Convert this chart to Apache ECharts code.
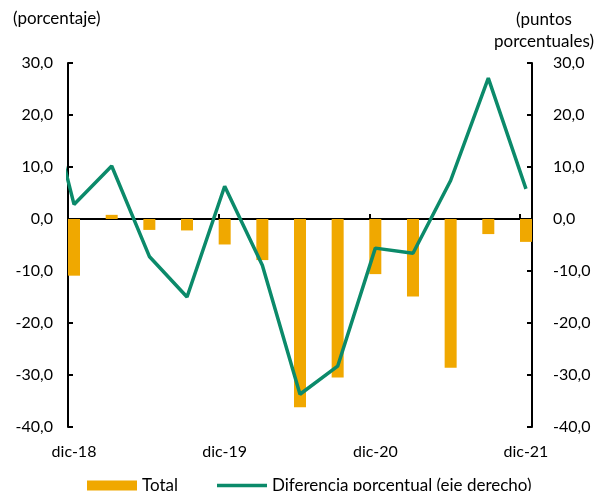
<!DOCTYPE html>
<html>
<head>
<meta charset="utf-8">
<script src="https://cdn.jsdelivr.net/npm/echarts@6/dist/echarts.min.js"></script>
<style>html,body{margin:0;padding:0;background:#fff;}#c{width:597px;height:491px;}</style>
</head>
<body>
<div id="c"></div>
<script>
// Quarterly periods dic-18 .. dic-21 (13 quarters)
const quarters = ['dic-18','mar-19','jun-19','sep-19','dic-19','mar-20','jun-20','sep-20','dic-20','mar-21','jun-21','sep-21','dic-21'];
const tickLabels = ['dic-18','dic-19','dic-20','dic-21'];
const tickQuarterIdx = [0, 4, 8, 12];
const totalValues = [-10.9, 0.8, -2.1, -2.2, -4.9, -7.9, -36.2, -30.5, -10.6, -14.9, -28.6, -2.9, -4.4];
// line starts one quarter before dic-18 (clipped by the plot area)
const diffPrevValue = 31.5;
const diffValues = [2.8, 10.2, -7.2, -15.0, 6.3, -8.9, -33.7, -28.3, -5.6, -6.6, 7.4, 27.1, 5.8];
const yTicks = [-40, -30, -20, -10, 0, 10, 20, 30];

const FONT = 'Lato';
const fmt = v => v.toFixed(1).replace('.', ',');
const xMin = -0.16, xMax = quarters.length - 1 + 0.16;

const barData = totalValues.map((v, i) => [i, v]);
const lineData = [[-1, diffPrevValue]].concat(diffValues.map((v, i) => [i, v]));

const chart = echarts.init(document.getElementById('c'), null, {renderer: 'canvas'});
const yAxisCommon = {
  type: 'value', min: yTicks[0], max: yTicks[yTicks.length - 1], interval: 10,
  splitLine: {show: false},
  axisLine: {show: true, onZero: false, lineStyle: {color: '#000', width: 2}},
  axisTick: {show: true, inside: true, length: 5, lineStyle: {color: '#000', width: 2}},
  axisLabel: {formatter: fmt, color: '#000', fontFamily: FONT, fontSize: 16}
};
const LINE_ICON = 'path://M0,0h0.01v0.01h-0.01z M0,3.3h50v3.4h-50z M0,9.99h0.01v0.01h-0.01z';
chart.setOption({
  animation: false,
  backgroundColor: '#fff',
  grid: {left: 68, right: 65, top: 63, bottom: 64, containLabel: false},
  graphic: [
    {type: 'text', left: 13, top: 10, style: {text: '(porcentaje)', font: '17px Lato', fill: '#000'}},
    {type: 'text', x: 544, y: 9, style: {text: '(puntos\nporcentuales)', font: '17px Lato', fill: '#000', align: 'center', lineHeight: 22}}
  ],
  xAxis: [
    {
      type: 'value', min: xMin, max: xMax, interval: 4,
      axisLine: {show: true, onZero: true, lineStyle: {color: '#000', width: 2}},
      axisTick: {show: true, inside: true, length: 5, lineStyle: {color: '#000', width: 2}},
      axisLabel: {show: false},
      splitLine: {show: false}
    },
    {
      type: 'value', min: xMin, max: xMax, position: 'bottom',
      axisLine: {show: false, onZero: false},
      axisTick: {show: false},
      splitLine: {show: false},
      axisLabel: {
        customValues: tickQuarterIdx,
        formatter: v => { const k = tickQuarterIdx.indexOf(Math.round(v)); return k >= 0 ? tickLabels[k] : ''; },
        color: '#000', fontFamily: FONT, fontSize: 16, margin: 17
      }
    }
  ],
  yAxis: [
    Object.assign({}, yAxisCommon, {position: 'left', axisLabel: Object.assign({}, yAxisCommon.axisLabel, {margin: 15})}),
    Object.assign({}, yAxisCommon, {position: 'right', axisLabel: Object.assign({}, yAxisCommon.axisLabel, {margin: 21})})
  ],
  legend: {
    left: 87, top: 477, padding: 0, itemWidth: 50, itemHeight: 10, itemGap: 39,
    textStyle: {color: '#000', fontFamily: FONT, fontSize: 17},
    data: [{name: 'Total', icon: 'rect'}, {name: 'Diferencia porcentual (eje derecho)', icon: LINE_ICON}]
  },
  series: [
    {
      name: 'Total', type: 'bar', xAxisIndex: 0, yAxisIndex: 0,
      data: barData, barWidth: 12, itemStyle: {color: '#F0A800'}
    },
    {
      name: 'Diferencia porcentual (eje derecho)', type: 'line', xAxisIndex: 0, yAxisIndex: 1,
      data: lineData, symbol: 'none', clip: true,
      lineStyle: {color: '#0B8A6A', width: 3.5}, itemStyle: {color: '#0B8A6A'}
    }
  ]
});
</script>
</body>
</html>
